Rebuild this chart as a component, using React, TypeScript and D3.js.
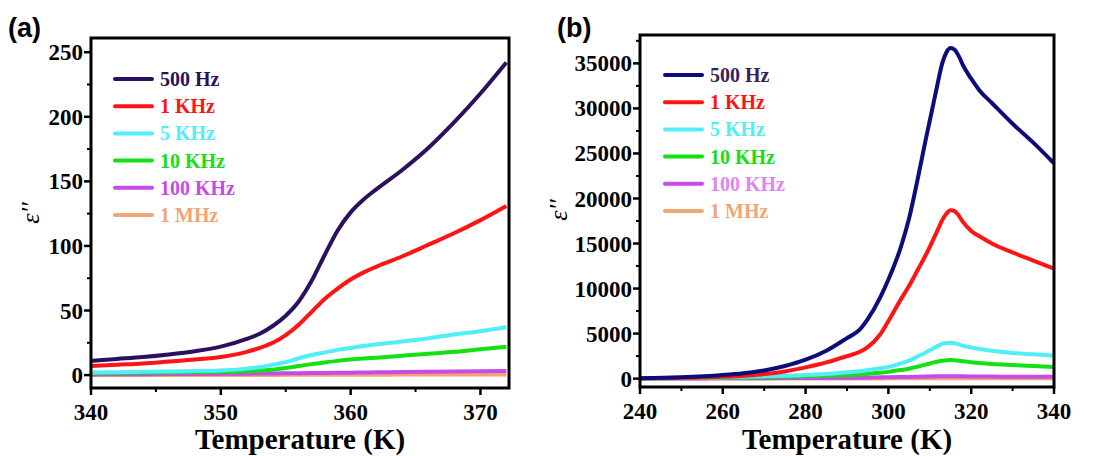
import React from 'react';
import * as d3 from 'd3';

// panel (a): 340-372 K
const tempA = [340, 342, 344, 346, 348, 350, 352, 353, 354, 355, 356, 357, 358, 359, 360, 361, 362, 364, 366, 368, 370, 372];
const a500 = [11, 12.5, 14, 16, 18.5, 22, 28, 32, 38, 46, 57, 73, 93, 112, 126, 136, 144, 159, 176, 196, 218, 242];
const a1k = [7, 8, 9, 10.5, 12, 14, 18, 21, 25, 31, 39, 49, 59, 67, 74, 79.5, 84, 92, 101, 110, 120, 131];
const a5k = [2, 2.2, 2.5, 2.8, 3.2, 3.6, 5, 6, 8, 10, 13, 15.5, 17.5, 19.5, 21, 22.5, 23.8, 26, 28.5, 31.5, 34, 37];
const a10k = [1.5, 1.6, 1.8, 2, 2.2, 2.5, 3, 3.5, 4.2, 5.5, 7, 8.5, 9.8, 11, 12, 12.8, 13.5, 15, 16.5, 18, 20, 22];
const a100k = [0.5, 0.6, 0.7, 0.8, 0.9, 1, 1.1, 1.2, 1.3, 1.4, 1.5, 1.6, 1.7, 1.8, 1.9, 2, 2.1, 2.3, 2.5, 2.7, 2.9, 3.1];
const a1m = [0, 0, 0, 0, 0, 0.1, 0.1, 0.1, 0.1, 0.2, 0.2, 0.2, 0.2, 0.3, 0.3, 0.3, 0.3, 0.4, 0.4, 0.4, 0.5, 0.5];

// panel (b): 240-340 K
const tempB = [240, 250, 260, 265, 270, 275, 280, 285, 290, 293, 295, 298, 300, 303, 305, 307, 309, 311, 312, 313, 314, 315, 316, 317, 318, 320, 322, 325, 330, 335, 340];
const b500 = [50, 150, 400, 600, 900, 1400, 2100, 3100, 4500, 5400, 6600, 9000, 11000, 14600, 17800, 22000, 26500, 30800, 33000, 35000, 36200, 36700, 36500, 35800, 34800, 33300, 32000, 30600, 28300, 26200, 23900];
const b1k = [30, 90, 200, 330, 500, 800, 1250, 1800, 2500, 2950, 3500, 4900, 6400, 8800, 10300, 12000, 13700, 15600, 16600, 17600, 18300, 18700, 18600, 18100, 17400, 16400, 15800, 15000, 14000, 13100, 12200];
const b5k = [30, 80, 150, 200, 260, 330, 400, 520, 700, 820, 950, 1150, 1300, 1700, 2000, 2450, 2900, 3400, 3650, 3850, 3950, 3980, 3920, 3800, 3650, 3450, 3300, 3100, 2850, 2700, 2550];
const b10k = [20, 60, 100, 130, 170, 210, 250, 320, 400, 470, 550, 650, 750, 950, 1100, 1320, 1550, 1800, 1900, 1980, 2040, 2060, 2040, 1980, 1920, 1820, 1730, 1620, 1500, 1390, 1300];
const b100k = [10, 20, 30, 40, 50, 60, 70, 80, 100, 110, 120, 140, 150, 170, 190, 210, 230, 250, 255, 260, 265, 265, 262, 258, 250, 240, 232, 225, 215, 205, 200];
const b1m = [5, 8, 10, 12, 14, 16, 18, 20, 22, 24, 25, 27, 28, 30, 32, 34, 36, 38, 39, 40, 40, 40, 40, 40, 39, 38, 37, 36, 35, 34, 33];

const labels = ['500 Hz', '1 KHz', '5 KHz', '10 KHz', '100 KHz', '1 MHz'];
const colorsA = ['#2b1060', '#ff1414', '#50eef6', '#14e014', '#c84ae8', '#f0a574'];
const textA = ['#2b1060', '#ff1414', '#50eef6', '#14e014', '#c84ae8', '#f0a574'];
const colorsB = ['#0c0c7c', '#ff1414', '#50eef6', '#14e014', '#c84ae8', '#f0a574'];
const textB = ['#3a1f5c', '#ff1414', '#50eef6', '#14e014', '#e084f2', '#f0a574'];

const ticksA = [0, 50, 100, 150, 200, 250];
const ticksB = [0, 5000, 10000, 15000, 20000, 25000, 30000, 35000];

const serif = '"Liberation Serif", "Times New Roman", serif';

function Panel({ tag, box, xDomain, yDomain, xTicks, xMinor, yTicks, yMinor, temps, series, colors, textColors, legendX, legendY }) {
  const x = d3.scaleLinear().domain(xDomain).range([box.left, box.right]);
  const y = d3.scaleLinear().domain(yDomain).range([box.bottom, box.top]);
  const line = d3.line<[number, number]>().x(d => x(d[0])).y(d => y(d[1])).curve(d3.curveMonotoneX);
  const midX = (box.left + box.right) / 2;

  return (
    <g>
      <clipPath id={`clip-${tag}`}>
        <rect x={box.left} y={box.top} width={box.right - box.left} height={box.bottom - box.top} />
      </clipPath>
      <g clipPath={`url(#clip-${tag})`}>
        {series.slice().reverse().map((s, ri) => {
          const i = series.length - 1 - ri;
          return (
            <path key={i} d={line(temps.map((t, j) => [t, s[j]])) || ''} fill="none" stroke={colors[i]} strokeWidth={4} strokeLinejoin="round" />
          );
        })}
      </g>
      <rect x={box.left} y={box.top} width={box.right - box.left} height={box.bottom - box.top} fill="none" stroke="#000" strokeWidth={3} />

      {/* x ticks */}
      {xMinor.map(t => (
        <line key={'xm' + t} x1={x(t)} x2={x(t)} y1={box.bottom} y2={box.bottom + 4} stroke="#000" strokeWidth={2} />
      ))}
      {xTicks.map(t => (
        <g key={'x' + t}>
          <line x1={x(t)} x2={x(t)} y1={box.bottom} y2={box.bottom + 7} stroke="#000" strokeWidth={2.5} />
          <text x={x(t)} y={box.bottom + 32} textAnchor="middle" fontFamily={serif} fontWeight="bold" fontSize={23}>{t}</text>
        </g>
      ))}

      {/* y ticks */}
      {yMinor.map(t => (
        <line key={'ym' + t} x1={box.left} x2={box.left - 4} y1={y(t)} y2={y(t)} stroke="#000" strokeWidth={2} />
      ))}
      {yTicks.map(t => (
        <g key={'y' + t}>
          <line x1={box.left} x2={box.left - 7} y1={y(t)} y2={y(t)} stroke="#000" strokeWidth={2.5} />
          <text x={box.left - 8} y={y(t)} dy="0.35em" textAnchor="end" fontFamily={serif} fontWeight="bold" fontSize={23}>{t}</text>
        </g>
      ))}

      <text x={midX} y={449} textAnchor="middle" fontFamily={serif} fontWeight="bold" fontSize={29}>Temperature (K)</text>
      <text transform={`translate(${box.left - (tag === 'a' ? 61 : 82)},${tag === 'a' ? 213 : 210}) rotate(-90)`} textAnchor="middle" dy="0.35em" fontFamily={serif} fontStyle="italic" fontSize={26}>ε''</text>
      <text x={box.left - 83} y={37} fontFamily='"Liberation Sans", Arial, sans-serif' fontWeight="bold" fontSize={27}>({tag})</text>

      {/* legend */}
      {labels.map((l, i) => (
        <g key={l} transform={`translate(${legendX},${legendY + i * 27.2})`}>
          <line x1={0} x2={37} y1={0} y2={0} stroke={colors[i]} strokeWidth={4} strokeLinecap="round" />
          <text x={45} y={0} dy="0.35em" fontFamily={serif} fontWeight="bold" fontSize={20} fill={textColors[i]}>{l}</text>
        </g>
      ))}
    </g>
  );
}

export default function App() {
  return (
    <svg width={1100} height={456} style={{ position: 'absolute', left: 0, top: 0, background: '#fff' }}>
      <Panel
        tag="a"
        box={{ left: 91, right: 509, top: 38, bottom: 388 }}
        xDomain={[340, 372.2]}
        yDomain={[-10, 261]}
        xTicks={[340, 350, 360, 370]}
        xMinor={[345, 355, 365]}
        yTicks={ticksA}
        yMinor={[25, 75, 125, 175, 225]}
        temps={tempA}
        series={[a500, a1k, a5k, a10k, a100k, a1m]}
        colors={colorsA}
        textColors={textA}
        legendX={115}
        legendY={79}
      />
      <Panel
        tag="b"
        box={{ left: 640, right: 1054, top: 35, bottom: 387 }}
        xDomain={[240, 340]}
        yDomain={[-930, 38150]}
        xTicks={[240, 260, 280, 300, 320, 340]}
        xMinor={[250, 270, 290, 310, 330]}
        yTicks={ticksB}
        yMinor={[2500, 7500, 12500, 17500, 22500, 27500, 32500, 37500]}
        temps={tempB}
        series={[b500, b1k, b5k, b10k, b100k, b1m]}
        colors={colorsB}
        textColors={textB}
        legendX={665}
        legendY={75}
      />
    </svg>
  );
}
